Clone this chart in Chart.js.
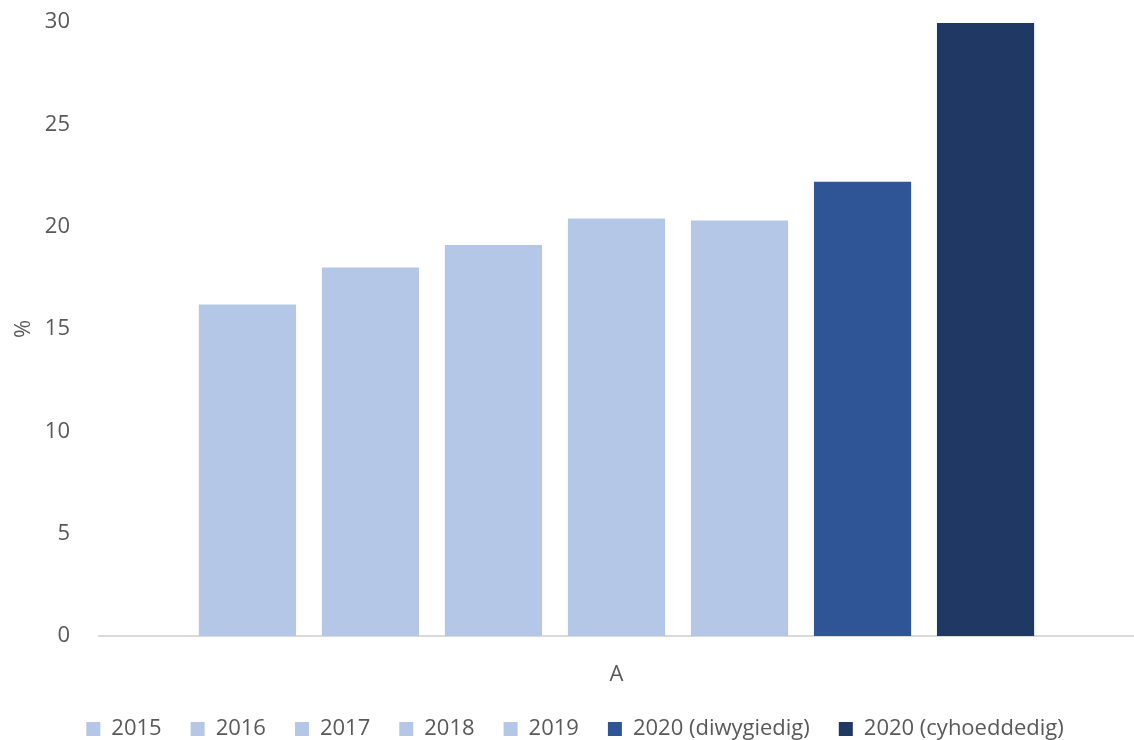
<!DOCTYPE html>
<html>
<head>
<meta charset="utf-8">
<script src="https://cdn.jsdelivr.net/npm/chart.js@4"></script>
<style>
html,body{margin:0;padding:0;background:#fff;}
#wrap{width:1134px;height:740px;position:relative;}
</style>
</head>
<body>
<div id="wrap"><canvas id="c" width="1134" height="740"></canvas></div>
<script>
const categories = ['A'];
const seriesNames = ['2015', '2016', '2017', '2018', '2019', '2020 (diwygiedig)', '2020 (cyhoeddedig)'];
const seriesValues = [[16.2], [18.0], [19.1], [20.4], [20.3], [22.2], [29.95]];
const seriesColors = ['#b4c7e7', '#b4c7e7', '#b4c7e7', '#b4c7e7', '#b4c7e7', '#2f5597', '#203864'];
const yTitle = '%';

const FONT = "'Open Sans', sans-serif";
const TXT = '#595959';

const legendShift = {
  id: 'legendShift',
  afterLayout(chart) {
    if (chart.legend) { chart.legend.left += 12; }
  }
};

new Chart(document.getElementById('c'), {
  type: 'bar',
  data: {
    labels: categories,
    datasets: seriesNames.map((n, i) => ({
      label: n,
      data: seriesValues[i],
      backgroundColor: seriesColors[i],
      borderWidth: 0,
      categoryPercentage: 0.832,
      barPercentage: 0.79
    }))
  },
  plugins: [legendShift],
  options: {
    responsive: false,
    animation: false,
    layout: { padding: { top: 22, right: 0, left: 4, bottom: 0 } },
    plugins: {
      legend: {
        position: 'bottom',
        maxHeight: 51,
        labels: {
          font: { family: FONT, size: 22 },
          color: TXT,
          boxWidth: 14,
          boxHeight: 14,
          padding: 29
        }
      },
      tooltip: { enabled: false }
    },
    scales: {
      x: {
        grid: { display: false, drawTicks: false },
        border: { display: true, color: '#d9d9d9', width: 2 },
        ticks: { font: { family: FONT, size: 22 }, color: TXT, padding: 26 },
        afterFit: s => { s.height = 53; }
      },
      y: {
        min: 0, max: 30,
        grid: { display: false, drawTicks: false },
        border: { display: false },
        ticks: { stepSize: 5, font: { family: FONT, size: 22 }, color: TXT, padding: 29 },
        title: { display: true, text: yTitle, font: { family: FONT, size: 22 }, color: TXT, padding: { top: 7, bottom: 0 } },
        afterFit: s => { s.width = 95; s.paddingTop = 13; s.paddingBottom = 13; }
      }
    }
  }
});
</script>
</body>
</html>
